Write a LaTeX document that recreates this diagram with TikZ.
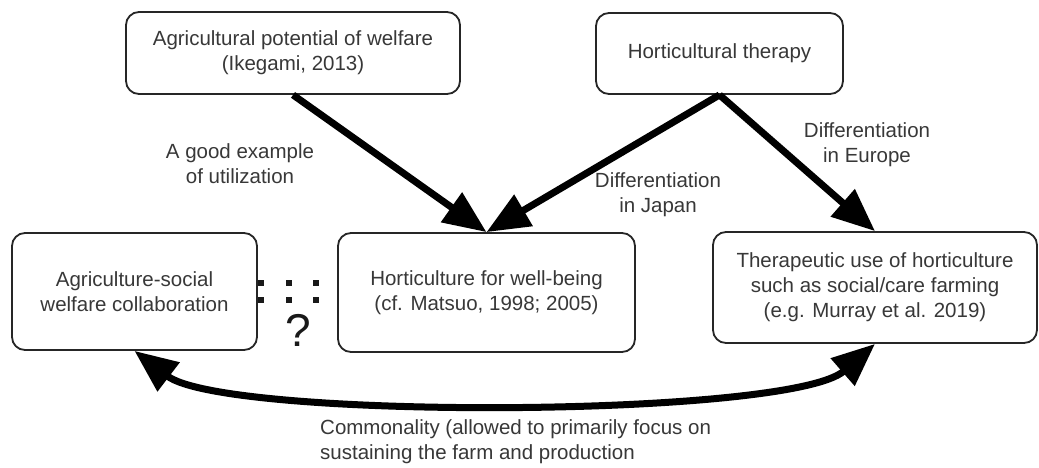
\documentclass[tikz,border=0pt]{standalone}
\usepackage{fontspec}
\setmainfont{Liberation Sans}
\usetikzlibrary{arrows.meta}
\begin{document}
\begin{tikzpicture}[x=1pt,y=-1pt,
  box/.style={draw=black!85, line width=1.8pt, rounded corners=13pt, align=center, inner sep=0pt,
    font=\fontsize{20.5}{25}\selectfont, text=black!78},
  lbl/.style={align=center, inner sep=0pt, font=\fontsize{20.5}{25}\selectfont, text=black!78},
  headtip/.tip={Triangle[length=43pt,width=35pt]},
  bigarrow/.style={line width=7pt, -headtip, black},
  dotsq/.style={fill=black!90, minimum size=6.5pt, inner sep=0pt}]
\useasboundingbox (0,0) rectangle (1039,467);
\fill[white] (0,0) rectangle (1039,467);

% boxes
\node[box, minimum width=334pt, minimum height=82pt] (A) at (293,53)
  {Agricultural potential of welfare\\(Ikegami, 2013)};
\node[box, minimum width=247pt, minimum height=81pt] (B) at (719.5,53.5)
  {Horticultural therapy};
\node[box, minimum width=245pt, minimum height=117pt] (C) at (134.5,291.5)
  {Agriculture-social\\welfare collaboration};
\node[box, minimum width=297pt, minimum height=119pt] (D) at (486.5,292.5)
  {Horticulture for well-being\\(cf. Matsuo, 1998; 2005)};
\node[box, minimum width=324pt, minimum height=111pt] (E) at (875,287.5)
  {Therapeutic use of horticulture\\such as social/care farming\\(e.g. Murray et al. 2019)};

% arrows
\draw[bigarrow] (A.south) -- (D.north);
\draw[bigarrow] (B.south) -- (D.north);
\draw[bigarrow] (B.south) -- (E.north);
\draw[line width=7pt, black, headtip-headtip]
  (C.south) .. controls (225,420) and (790,418) .. (E.south);

% labels
\node[lbl] (lgood) at (240,164) {A good example\\of utilization};
\node[lbl] (ljap) at (658,195) {Differentiation\\in Japan};
\node[lbl] (leur) at (867,145) {Differentiation\\in Europe};
\node[lbl, align=left, anchor=west] (lcom) at (320,442)
  {Commonality (allowed to primarily focus on\\sustaining the farm and production};

% dots and question mark
\node[dotsq] (d1) at (261,283) {};
\node[dotsq] (d2) at (261,300) {};
\node[dotsq] (d3) at (289,283) {};
\node[dotsq] (d4) at (289,300) {};
\node[dotsq] (d5) at (316,283) {};
\node[dotsq] (d6) at (316,300) {};
\node[lbl, font=\fontsize{46}{50}\selectfont, text=black!90] (q) at (298,330) {?};
\end{tikzpicture}
\end{document}
